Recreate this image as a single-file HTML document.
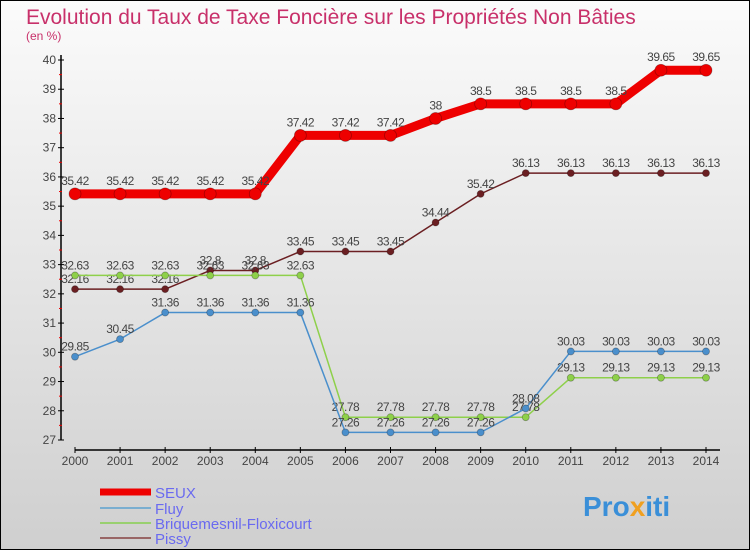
<!DOCTYPE html>
<html><head><meta charset="utf-8"><style>
body{margin:0;width:750px;height:550px;overflow:hidden;font-family:"Liberation Sans",sans-serif}
svg{display:block}
</style></head><body>
<svg id="c" width="750" height="550">
<defs><linearGradient id="bg" x1="0" y1="0" x2="0" y2="1"><stop offset="0" stop-color="#fbfbfb"/><stop offset="1" stop-color="#cfcfcf"/></linearGradient></defs>
<rect x="0.5" y="0.5" width="749" height="549" fill="url(#bg)" stroke="#000"/>
<text x="26" y="24" font-size="21" fill="#c8306a">Evolution du Taux de Taxe Foncière sur les Propriétés Non Bâties</text>
<text x="26" y="40" font-size="12" fill="#c8306a">(en %)</text>
<g id="axes"></g><g id="series"></g><g id="legend"></g>
<text x="583" y="516" font-size="28" font-weight="bold" fill="#3a8fd8">Pro<tspan fill="#f0a020">x</tspan>iti</text>
</svg>
<script>
const years=[2000,2001,2002,2003,2004,2005,2006,2007,2008,2009,2010,2011,2012,2013,2014];
const seux=[35.42,35.42,35.42,35.42,35.42,37.42,37.42,37.42,38,38.5,38.5,38.5,38.5,39.65,39.65];
const fluy=[29.85,30.45,31.36,31.36,31.36,31.36,27.26,27.26,27.26,27.26,28.08,30.03,30.03,30.03,30.03];
const briq=[32.63,32.63,32.63,32.63,32.63,32.63,27.78,27.78,27.78,27.78,27.78,29.13,29.13,29.13,29.13];
const pissy=[32.16,32.16,32.16,32.8,32.8,33.45,33.45,33.45,34.44,35.42,36.13,36.13,36.13,36.13,36.13];
const yTicks=[27,28,29,30,31,32,33,34,35,36,37,38,39,40];
const NS="http://www.w3.org/2000/svg";
const x=i=>75+i*(706-75)/(years.length-1);
const y=v=>440-(v-27)*(380/13);
function mk(t,a,p){const e=document.createElementNS(NS,t);for(const k in a)e.setAttribute(k,a[k]);p.appendChild(e);return e;}
const ax=document.getElementById('axes');
let l=mk('line',{x1:61,y1:55,x2:61,y2:440,stroke:'#000','stroke-width':1.5},ax);


l=mk('line',{x1:75,y1:450,x2:720,y2:450,stroke:'#000','stroke-width':1.5},ax);


yTicks.forEach(v=>{
 mk('line',{x1:58,y1:y(v),x2:64,y2:y(v),stroke:'#000'},ax);
 if(v<40)mk('line',{x1:59,y1:y(v+0.5),x2:62,y2:y(v+0.5),stroke:'#e00'},ax);
 const t=mk('text',{x:56,y:y(v)+4,'text-anchor':'end','font-size':12,fill:'#444'},ax);t.textContent=v;
 
 
});
years.forEach((yr,i)=>{
 mk('line',{x1:x(i),y1:447,x2:x(i),y2:453,stroke:'#000'},ax);
 const t=mk('text',{x:x(i),y:465,'text-anchor':'middle','font-size':12,fill:'#444'},ax);t.textContent=yr;
 
 
});
const sg=document.getElementById('series');
function series(data,color,w,r,name){
 const g=mk('g',{},sg);
 
 
 mk('polyline',{points:data.map((v,i)=>x(i)+','+y(v)).join(' '),fill:'none',stroke:color,'stroke-width':w,'stroke-linejoin':'round'},g);
 data.forEach((v,i)=>{
  const c=mk('circle',{cx:x(i),cy:y(v),r:r,fill:color,stroke:'rgba(0,0,0,0.3)','stroke-width':0.8},g);
  
  
  const t=mk('text',{x:x(i),y:y(v)-(w>5?9:6),'text-anchor':'middle','font-size':12,fill:'#444','letter-spacing':'-0.5'},g);t.textContent=v;
 });
}
series(pissy,'#6b1f22',1.5,3.5,'series-pissy');
series(briq,'#8ed04a',1.5,3.5,'series-briquemesnil');
series(fluy,'#4a8fcc',1.5,3.5,'series-fluy');
series(seux,'#ee0000',9,6,'series-seux');
const lg=document.getElementById('legend');
[['SEUX','#ee0000',7,492],['Fluy','#7aaed0',2,508],['Briquemesnil-Floxicourt','#99d070',2,523],['Pissy','#996666',2,538]].forEach(d=>{
 const g=mk('g',{},lg);
 
 
 mk('line',{x1:100,y1:d[3],x2:151,y2:d[3],stroke:d[1],'stroke-width':d[2]},g);
 const t=mk('text',{x:155,y:d[3]+6,'font-size':15,fill:'#6a6af0'},g);t.textContent=d[0];
});
</script>
</body></html>
